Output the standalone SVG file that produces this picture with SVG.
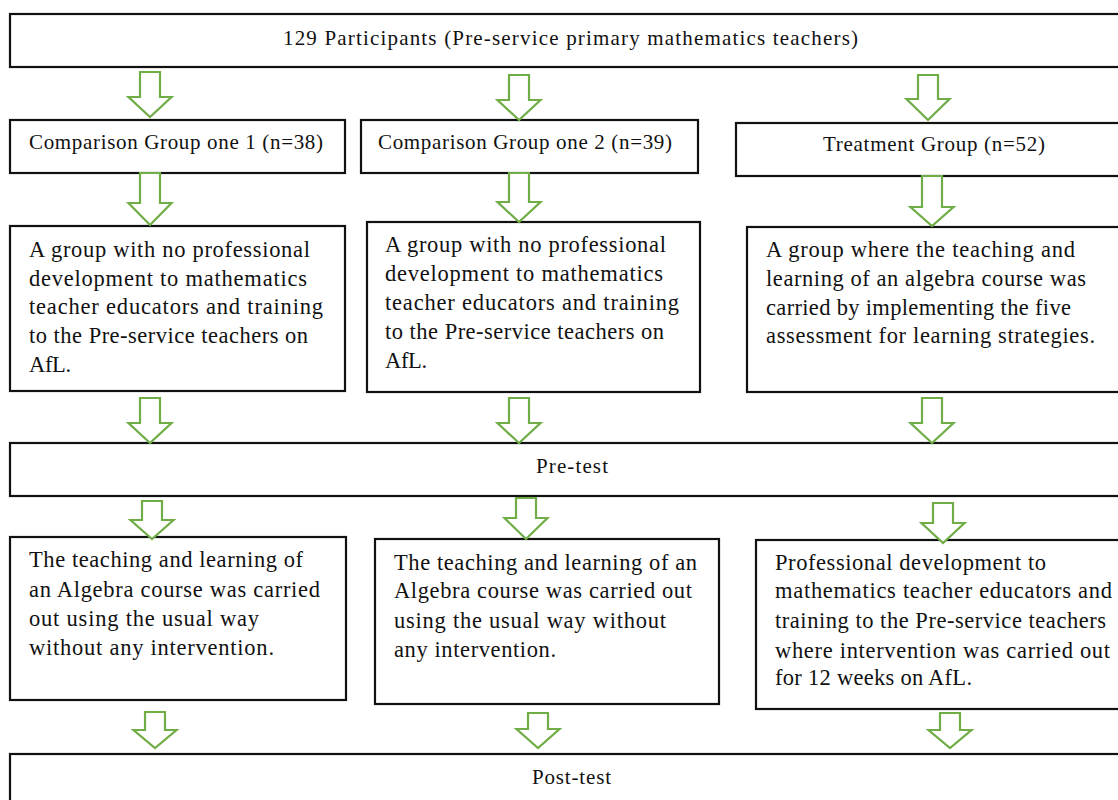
<svg xmlns="http://www.w3.org/2000/svg" width="1118" height="800" viewBox="0 0 1118 800">
<style>
.box{fill:#fff;stroke:#111;stroke-width:2.2}
.arr{fill:#fff;stroke:#70AD47;stroke-width:2.2;stroke-linejoin:miter}
text{font-family:"Liberation Serif","Times New Roman",serif;fill:#111}
.h{font-size:21px}
.b{font-size:22.5px}
</style>
<rect width="1118" height="800" fill="#fff"/>
<g id="participants"><rect class="box" x="10" y="14" width="1112" height="53"/><text class="h" x="283" y="45" textLength="575" lengthAdjust="spacing">129 Participants (Pre-service primary mathematics teachers)</text></g>
<g id="comp1"><rect class="box" x="10" y="120" width="335" height="53"/><text class="h" x="29" y="149" textLength="294" lengthAdjust="spacing">Comparison Group one 1 (n=38)</text></g>
<g id="comp2"><rect class="box" x="361" y="120" width="337" height="53"/><text class="h" x="378" y="149" textLength="294" lengthAdjust="spacing">Comparison Group one 2 (n=39)</text></g>
<g id="treat"><rect class="box" x="736" y="123" width="386" height="53"/><text class="h" x="823" y="151" textLength="222" lengthAdjust="spacing">Treatment Group (n=52)</text></g>
<g id="desc1"><rect class="box" x="10" y="226" width="335" height="165"/>
<text class="b" x="29" y="257" textLength="281" lengthAdjust="spacing">A group with no professional</text>
<text class="b" x="29" y="286" textLength="278" lengthAdjust="spacing">development to mathematics</text>
<text class="b" x="29" y="314" textLength="294" lengthAdjust="spacing">teacher educators and training</text>
<text class="b" x="29" y="343" textLength="279" lengthAdjust="spacing">to the Pre-service teachers on</text>
<text class="b" x="29" y="372" textLength="42" lengthAdjust="spacing">AfL.</text></g>
<g id="desc2"><rect class="box" x="367" y="222" width="333" height="170"/>
<text class="b" x="385" y="252" textLength="281" lengthAdjust="spacing">A group with no professional</text>
<text class="b" x="385" y="281" textLength="278" lengthAdjust="spacing">development to mathematics</text>
<text class="b" x="385" y="310" textLength="294" lengthAdjust="spacing">teacher educators and training</text>
<text class="b" x="385" y="339" textLength="279" lengthAdjust="spacing">to the Pre-service teachers on</text>
<text class="b" x="385" y="368" textLength="42" lengthAdjust="spacing">AfL.</text></g>
<g id="desc3"><rect class="box" x="747" y="227" width="375" height="165"/>
<text class="b" x="766" y="257" textLength="309" lengthAdjust="spacing">A group where the teaching and</text>
<text class="b" x="766" y="286" textLength="320" lengthAdjust="spacing">learning of an algebra course was</text>
<text class="b" x="766" y="315" textLength="305" lengthAdjust="spacing">carried by implementing the five</text>
<text class="b" x="766" y="343" textLength="329" lengthAdjust="spacing">assessment for learning strategies.</text></g>
<g id="pretest"><rect class="box" x="10" y="443" width="1112" height="53"/><text class="h" x="536" y="473" textLength="72" lengthAdjust="spacing">Pre-test</text></g>
<g id="proc1"><rect class="box" x="10" y="537" width="336" height="163"/>
<text class="b" x="29" y="567" textLength="274" lengthAdjust="spacing">The teaching and learning of</text>
<text class="b" x="29" y="597" textLength="291" lengthAdjust="spacing">an Algebra course was carried</text>
<text class="b" x="29" y="626" textLength="230" lengthAdjust="spacing">out using the usual way</text>
<text class="b" x="29" y="655" textLength="245" lengthAdjust="spacing">without any intervention.</text></g>
<g id="proc2"><rect class="box" x="375" y="539" width="344" height="165"/>
<text class="b" x="394" y="570" textLength="303" lengthAdjust="spacing">The teaching and learning of an</text>
<text class="b" x="394" y="598" textLength="298" lengthAdjust="spacing">Algebra course  was carried out</text>
<text class="b" x="394" y="628" textLength="272" lengthAdjust="spacing">using the usual way without</text>
<text class="b" x="394" y="657" textLength="162" lengthAdjust="spacing">any intervention.</text></g>
<g id="proc3"><rect class="box" x="756" y="540" width="366" height="169"/>
<text class="b" x="775" y="570" textLength="271" lengthAdjust="spacing">Professional development to</text>
<text class="b" x="775" y="598" textLength="337" lengthAdjust="spacing">mathematics teacher educators and</text>
<text class="b" x="775" y="628" textLength="331" lengthAdjust="spacing">training to the Pre-service teachers</text>
<text class="b" x="775" y="658" textLength="335" lengthAdjust="spacing">where intervention was carried out</text>
<text class="b" x="775" y="685" textLength="197" lengthAdjust="spacing">for 12 weeks on AfL.</text></g>
<g id="posttest"><rect class="box" x="10" y="754" width="1112" height="60"/><text class="h" x="532" y="784" textLength="79" lengthAdjust="spacing">Post-test</text></g>
<g id="connectors">
<path class="arr" d="M140,72H160V97H171.5L150,117L128.5,97H140Z"/>
<path class="arr" d="M509,75H529V100H540.5L519,120L497.5,100H509Z"/>
<path class="arr" d="M918,75H938V99H949.5L928,120L906.5,99H918Z"/>
<path class="arr" d="M140,173H160V203H171.5L150,225L128.5,203H140Z"/>
<path class="arr" d="M509,173H529V202H540.5L519,222L497.5,202H509Z"/>
<path class="arr" d="M922,176H942V207H953.5L932,226L910.5,207H922Z"/>
<path class="arr" d="M140,398H160V423H171.5L150,443L128.5,423H140Z"/>
<path class="arr" d="M509,398H529V423H540.5L519,443L497.5,423H509Z"/>
<path class="arr" d="M922,398H942V423H953.5L932,443L910.5,423H922Z"/>
<path class="arr" d="M142,501H162V520H173.5L152,539L130.5,520H142Z"/>
<path class="arr" d="M516,498H536V518H547.5L526,539L504.5,518H516Z"/>
<path class="arr" d="M933,503H953V523H964.5L943,543L921.5,523H933Z"/>
<path class="arr" d="M145,712H165V730H176.5L155,748L133.5,730H145Z"/>
<path class="arr" d="M528,713H548V729H559.5L538,748L516.5,729H528Z"/>
<path class="arr" d="M940,713H960V730H971.5L950,748L928.5,730H940Z"/>
</g>
</svg>
